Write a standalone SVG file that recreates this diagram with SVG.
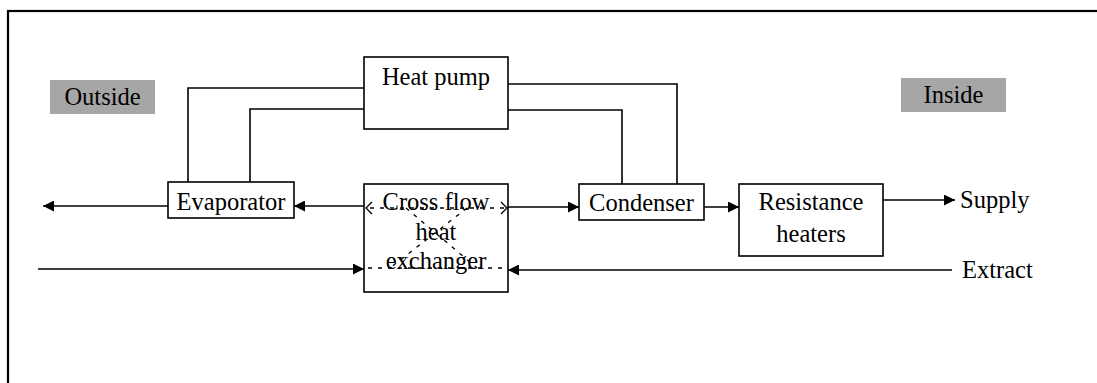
<svg xmlns="http://www.w3.org/2000/svg" width="1097" height="383" viewBox="0 0 1097 383">
<defs>
<marker id="ah" markerWidth="12" markerHeight="11" refX="11" refY="5.5" orient="auto" markerUnits="userSpaceOnUse">
<path d="M0,0 L11,5.5 L0,11 Z" fill="#000"/>
</marker>
<style>
.box{fill:#fff;stroke:#000;stroke-width:1.6}
.lbl{fill:#a6a6a6}
.t{font-family:"Liberation Serif","Times New Roman",serif;font-size:24.5px;fill:#000}
.c{text-anchor:middle}
.ln{fill:none;stroke:#000;stroke-width:1.6}
.ar{fill:none;stroke:#000;stroke-width:1.6;marker-end:url(#ah)}
.dsh{fill:none;stroke:#000;stroke-width:1.3;stroke-dasharray:4 6}
</style>
</defs>
<rect x="8" y="11" width="1100" height="380" fill="#fff" stroke="#000" stroke-width="2.2"/>
<g id="outside">
<rect class="lbl" x="50" y="80" width="105" height="34"/>
<text class="t c" x="102.5" y="105" font-family="Liberation Serif, serif">Outside</text>
</g>
<g id="inside">
<rect class="lbl" x="901" y="78" width="105" height="34"/>
<text class="t c" x="953.5" y="103" font-family="Liberation Serif, serif">Inside</text>
</g>
<g id="connectors">
<polyline class="ln" points="364,88 188,88 188,182"/>
<polyline class="ln" points="364,109 250,109 250,182"/>
<polyline class="ln" points="508,84 677,84 677,184"/>
<polyline class="ln" points="508,110 622,110 622,184"/>
<line class="ar" x1="168" y1="206" x2="43" y2="206"/>
<line class="ar" x1="364" y1="206" x2="294" y2="206"/>
<line class="ar" x1="508" y1="207" x2="579" y2="207"/>
<line class="ar" x1="704" y1="207" x2="739" y2="207"/>
<line class="ar" x1="883" y1="200" x2="955" y2="200"/>
<line class="ar" x1="38" y1="269" x2="364" y2="269"/>
<line class="ar" x1="952" y1="270" x2="508" y2="270"/>
</g>
<g id="heat-pump">
<rect class="box" x="364" y="57" width="144" height="72"/>
<text class="t c" x="436" y="85">Heat pump</text>
</g>
<g id="evaporator">
<rect class="box" x="168" y="182" width="126" height="36"/>
<text class="t c" x="231" y="210">Evaporator</text>
</g>
<g id="cross-flow-heat-exchanger">
<rect class="box" x="364" y="184" width="144" height="108"/>
<line class="dsh" x1="370" y1="208" x2="504" y2="208"/>
<line class="dsh" x1="368" y1="268" x2="504" y2="268"/>
<line class="dsh" x1="406" y1="208" x2="477" y2="268"/>
<line class="dsh" x1="467" y1="208" x2="390" y2="268"/>
<polyline fill="none" stroke="#000" stroke-width="1.3" points="372,202 366,208 372,214"/>
<polyline fill="none" stroke="#000" stroke-width="1.3" points="501,202 507,208 501,214"/>
<text class="t c" x="436" y="210">Cross flow</text>
<text class="t c" x="436" y="240">heat</text>
<text class="t c" x="436" y="269">exchanger</text>
</g>
<g id="condenser">
<rect class="box" x="579" y="184" width="125" height="36"/>
<text class="t c" x="641.5" y="211">Condenser</text>
</g>
<g id="resistance-heaters">
<rect class="box" x="739" y="184" width="144" height="72"/>
<text class="t c" x="811" y="210">Resistance</text>
<text class="t c" x="811" y="242">heaters</text>
</g>
<g id="supply">
<text class="t" x="960" y="208">Supply</text>
</g>
<g id="extract">
<text class="t" x="962" y="278">Extract</text>
</g>
</svg>
